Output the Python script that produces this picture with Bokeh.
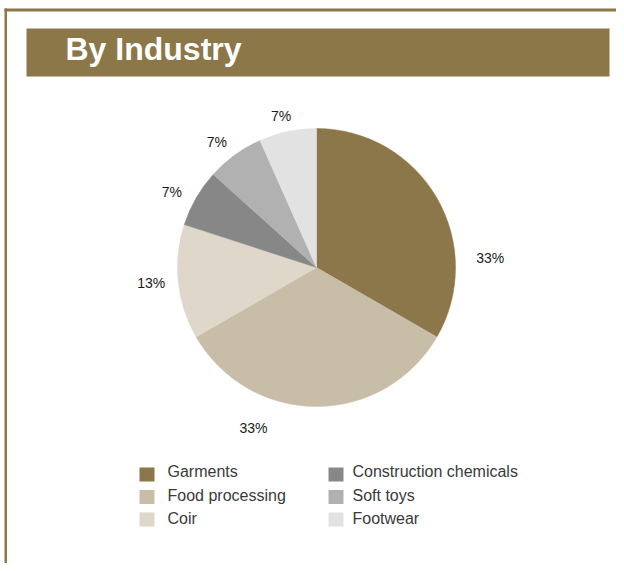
import math
from bokeh.plotting import figure
from bokeh.models import Range1d, BoxAnnotation, ColumnDataSource
from bokeh.core.properties import value
from bokeh.embed import file_html
from bokeh.resources import INLINE

# ---- data ----
categories = ["Garments", "Food processing", "Coir",
              "Construction chemicals", "Soft toys", "Footwear"]
counts = [5, 5, 2, 1, 1, 1]
colors = ["#8C774A", "#C8BDA7", "#DED7CA", "#878787", "#B1B1B1", "#E2E2E2"]
title_text = ["By Industry"]

# label placement (degrees clockwise from top, distance from centre in px)
label_angle_deg = [87.0, 201.5, 264.8, 297.4, 321.5, 346.9]
label_dist = [174, 172, 166, 163, 160, 156]

W, H = 616, 563
FONT = "Liberation Sans"
BRAND = "#8C7749"

def fy(py):  # page y -> data y
    return H - py

def fx(px):  # page x -> data x
    return px

p = figure(width=W, height=H, output_backend="svg", toolbar_location=None,
           x_range=Range1d(0, W), y_range=Range1d(0, H),
           x_axis_location=None, y_axis_location=None,
           min_border=0, outline_line_color=None)
p.grid.visible = False
p.background_fill_color = "white"
p.border_fill_color = "white"

# frame lines
p.add_layout(BoxAnnotation(left=fx(4), right=W, top=fy(8), bottom=fy(11),
                           fill_color=BRAND, fill_alpha=1, line_alpha=0,
                           level="underlay"))
p.add_layout(BoxAnnotation(left=fx(4), right=fx(6.5), top=fy(8), bottom=0,
                           fill_color=BRAND, fill_alpha=1, line_alpha=0,
                           level="underlay"))
# title bar
p.add_layout(BoxAnnotation(left=fx(26), right=fx(609), top=fy(28), bottom=fy(76),
                           fill_color=BRAND, fill_alpha=1, line_alpha=0,
                           level="underlay"))
p.text(x=[fx(65)], y=[fy(48.5)], text=title_text, text_color="white",
       text_font=value(FONT), text_font_size="32px",
       text_font_style="bold", text_baseline="middle", text_align="left")

# pie
cx, cy, R = fx(316), fy(267), 139
total = sum(counts)
starts, ends, pct = [], [], []
cum = 0
for c in counts:
    starts.append(math.pi / 2 - 2 * math.pi * cum / total)
    cum += c
    ends.append(math.pi / 2 - 2 * math.pi * cum / total)
    pct.append(f"{round(100 * c / total)}%")

src = ColumnDataSource(dict(start=starts, end=ends, color=colors, cat=categories))
p.wedge(x=cx, y=cy, radius=R, start_angle="start", end_angle="end",
        direction="clock", fill_color="color", line_color="color",
        line_width=0.5, source=src)

# percentage labels
lx = [cx + d * math.sin(math.radians(a)) for a, d in zip(label_angle_deg, label_dist)]
ly = [cy + d * math.cos(math.radians(a)) for a, d in zip(label_angle_deg, label_dist)]
p.text(x=lx, y=ly, text=pct, text_align="center", text_baseline="middle",
       text_font=value(FONT), text_font_size="14px", text_color="#1a1a1a")

# legend (2 columns x 3 rows)
sq_x0 = [fx(139), fx(328)]
tx_x0 = [fx(167), fx(352)]
sx, sy, tx, ty = [], [], [], []
for i, name in enumerate(categories):
    col, row = i // 3, i % 3
    sx.append(sq_x0[col] + 7.5)
    sy.append(fy(474 + row * 22.5))
    tx.append(tx_x0[col])
    ty.append(fy(471 + row * 23.5))
p.rect(x=sx, y=sy, width=15, height=14, fill_color=colors, line_color=None)
p.text(x=tx, y=ty, text=categories, text_align="left", text_baseline="middle",
       text_font=value(FONT), text_font_size="16px", text_color="#3a3a3a")

open("out.html", "w").write(file_html(p, INLINE))
